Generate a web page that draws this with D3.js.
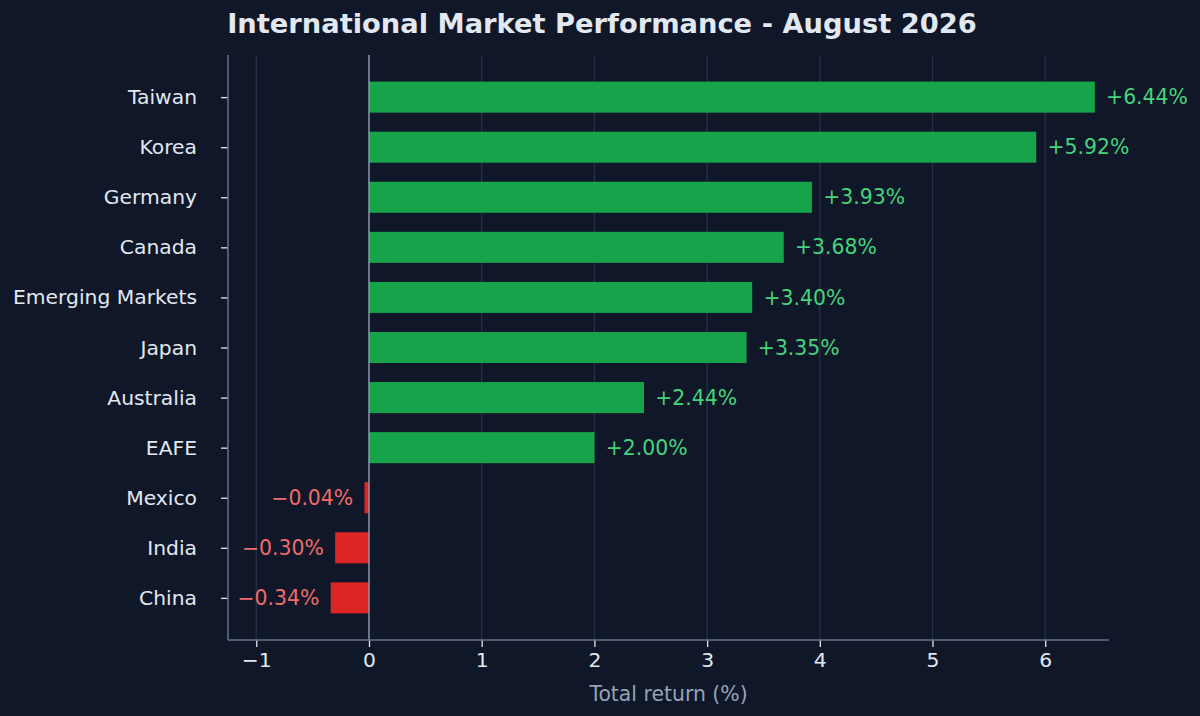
<!DOCTYPE html>
<html><head><meta charset="utf-8">
<script src="https://cdn.jsdelivr.net/npm/d3@7"></script>
<style>
html,body{margin:0;padding:0;background:#0f1729;}
svg{display:block;font-family:"DejaVu Sans",sans-serif;}
</style></head>
<body>
<svg id="chart" width="1200" height="716"></svg>
<script>
const categories = ["Taiwan","Korea","Germany","Canada","Emerging Markets","Japan","Australia","EAFE","Mexico","India","China"];
const returns = [6.44,5.92,3.93,3.68,3.40,3.35,2.44,2.00,-0.04,-0.30,-0.34];
const xTicks = [-1,0,1,2,3,4,5,6];
const title = "International Market Performance - August 2026";
const xLabel = "Total return (%)";

const W = 1200, H = 716;
const m = {left:228, right:1109, top:55, bottom:640};
const svg = d3.select("#chart");
svg.append("rect").attr("width",W).attr("height",H).attr("fill","#0f1729");

const x = d3.scaleLinear().domain([-1.251, 6.566]).range([m.left, m.right]);
const barH = 0.62;
const y = d3.scaleLinear().domain([-0.31 - 0.531, categories.length - 1 + 0.31 + 0.531]).range([m.top, m.bottom]);

// grid
svg.append("g").selectAll("line").data(xTicks).join("line")
  .attr("x1",d=>x(d)).attr("x2",d=>x(d)).attr("y1",m.top).attr("y2",m.bottom)
  .attr("stroke","#334155").attr("stroke-opacity",0.65).attr("stroke-width",1.3);

// bars
svg.append("g").selectAll("rect").data(returns).join("rect")
  .attr("x",d=>x(Math.min(0,d)))
  .attr("width",d=>Math.abs(x(d)-x(0)))
  .attr("y",(d,i)=>y(i-barH/2))
  .attr("height",y(barH)-y(0))
  .attr("fill",d=>d>=0?"#16a34a":"#dc2626");

// zero line
svg.append("line").attr("x1",x(0)).attr("x2",x(0)).attr("y1",m.top).attr("y2",m.bottom)
  .attr("stroke","#94a3b8").attr("stroke-width",1.3);

// value labels
const fmt = d => (d>=0?"+":"\u2212") + Math.abs(d).toFixed(2) + "%";
svg.append("g").selectAll("text").data(returns).join("text")
  .attr("x",d=>d>=0?x(d+0.1):x(d-0.1))
  .attr("y",(d,i)=>y(i))
  .attr("dy","0.35em")
  .attr("text-anchor",d=>d>=0?"start":"end")
  .attr("fill",d=>d>=0?"#45d47a":"#ef6b6b")
  .attr("font-size","20.4px")
  .text(fmt);

// axes
const xAxis = d3.axisBottom(x).tickValues(xTicks).tickSize(7).tickPadding(6)
  .tickFormat(d=>d<0?"\u2212"+Math.abs(d):String(d));
const gx = svg.append("g").attr("transform",`translate(0,${m.bottom})`).call(xAxis);
gx.select(".domain").remove();
gx.append("line").attr("x1",m.left).attr("x2",m.right).attr("stroke","#64748b").attr("stroke-width",1.5);
gx.selectAll(".tick line").attr("stroke","#e2e8f0").attr("stroke-width",1.3);
gx.selectAll(".tick text").attr("fill","#e2e8f0").attr("font-size","20.3px").attr("font-family","DejaVu Sans");

const yAxis = d3.axisLeft(y).tickValues(d3.range(categories.length)).tickSize(7).tickPadding(24)
  .tickFormat(i=>categories[i]);
const gy = svg.append("g").attr("transform",`translate(${m.left},0)`).call(yAxis);
gy.select(".domain").remove();
gy.append("line").attr("y1",m.top).attr("y2",m.bottom).attr("stroke","#64748b").attr("stroke-width",1.5);
gy.selectAll(".tick line").attr("stroke","#e2e8f0").attr("stroke-width",1.3);
gy.selectAll(".tick text").attr("fill","#e2e8f0").attr("font-size","20.3px").attr("font-family","DejaVu Sans");

// axis label
svg.append("text").attr("x",(m.left+m.right)/2).attr("y",701)
  .attr("text-anchor","middle").attr("fill","#94a3b8").attr("font-size","20.4px").text(xLabel);

// title
svg.append("text").attr("x",602).attr("y",33)
  .attr("text-anchor","middle").attr("fill","#e2e8f0").attr("font-size","27.3px").attr("font-weight","bold").text(title);
</script>
</body></html>
